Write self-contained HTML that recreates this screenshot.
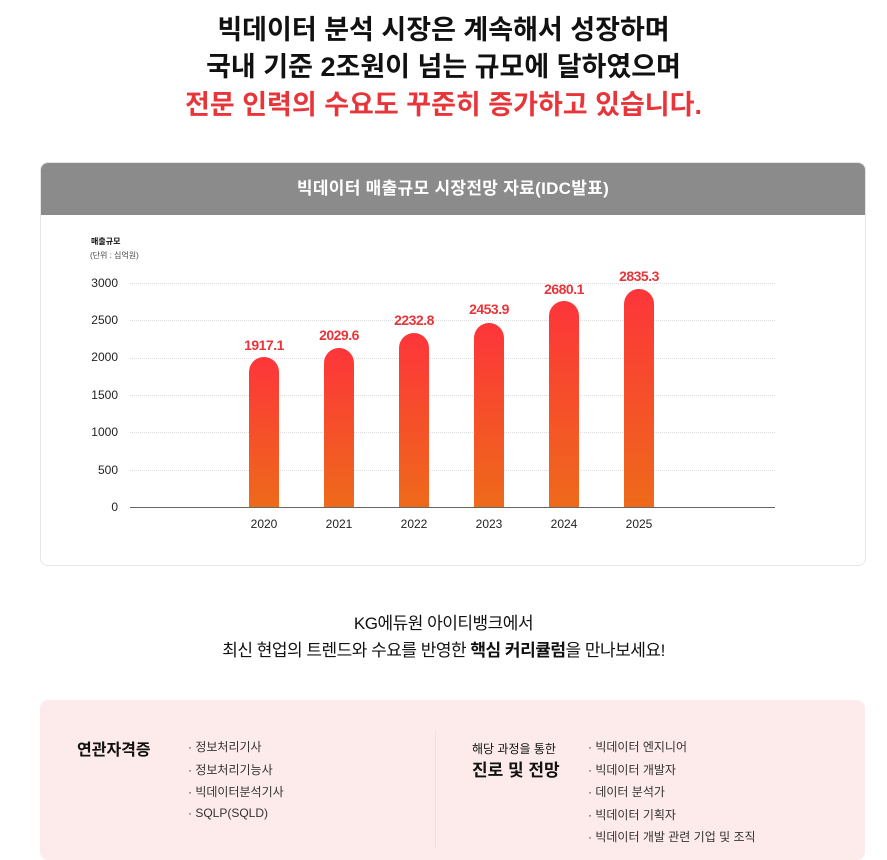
<!DOCTYPE html><html><head><meta charset="utf-8"><style>
body{margin:0;width:887px;height:848px;background:#fff;font-family:"Liberation Sans","Noto Sans CJK KR",sans-serif;position:relative;overflow:hidden;color:#111}
.a{position:absolute}
.t{left:0;width:887px;text-align:center;font-weight:bold;font-size:27px;letter-spacing:0px}
.card{left:40px;top:162px;width:824px;height:402px;border:1px solid #e6e6e6;border-radius:8px;overflow:hidden}
.hd{left:0;top:0;width:824px;height:52px;background:#8b8b8b;color:#fff;text-align:center;line-height:52px;font-size:17px;font-weight:bold;letter-spacing:0.3px}
.yl{font-size:12px;color:#222;width:40px;text-align:right;left:78px}
.g{left:130px;width:645px;height:0;border-top:1px dotted #ddd}
.bar{width:30px;border-radius:15px 15px 0 0;background:linear-gradient(#fd353a,#ee6a1a)}
.v{width:80px;text-align:center;font-size:14px;font-weight:bold;color:#e8353a;letter-spacing:-0.5px}
.x{width:60px;text-align:center;font-size:12px;color:#222}
.pink{left:40px;top:700px;width:825px;height:160px;background:#fdeaea;border-radius:8px}
.li{font-size:12px;color:#333}
</style></head><body>
<div class="a t" style="top:8px">빅데이터 분석 시장은 계속해서 성장하며</div>
<div class="a t" style="top:45px">국내 기준 2조원이 넘는 규모에 달하였으며</div>
<div class="a t" style="top:83px;color:#e8353a">전문 인력의 수요도 꾸준히 증가하고 있습니다.</div>
<div class="a card"><div class="a hd">빅데이터 매출규모 시장전망 자료(IDC발표)</div></div>
<div class="a" style="left:91px;top:236px;font-size:8px;font-weight:bold">매출규모</div>
<div class="a" style="left:90px;top:250px;font-size:8px;color:#444">(단위 : 십억원)</div>
<div class="a yl" style="top:276px">3000</div><div class="a g" style="top:283px"></div>
<div class="a yl" style="top:313px">2500</div><div class="a g" style="top:320px"></div>
<div class="a yl" style="top:350px">2000</div><div class="a g" style="top:358px"></div>
<div class="a yl" style="top:388px">1500</div><div class="a g" style="top:395px"></div>
<div class="a yl" style="top:425px">1000</div><div class="a g" style="top:432px"></div>
<div class="a yl" style="top:463px">500</div><div class="a g" style="top:470px"></div>
<div class="a yl" style="top:500px">0</div>
<div class="a" style="left:130px;top:507px;width:645px;height:1px;background:#666"></div>
<div class="a bar" style="left:249px;top:357px;height:150px"></div>
<div class="a bar" style="left:324px;top:348px;height:159px"></div>
<div class="a bar" style="left:399px;top:333px;height:174px"></div>
<div class="a bar" style="left:474px;top:323px;height:184px"></div>
<div class="a bar" style="left:549px;top:301px;height:206px"></div>
<div class="a bar" style="left:624px;top:289px;height:218px"></div>
<div class="a v" style="left:224px;top:337px">1917.1</div>
<div class="a v" style="left:299px;top:327px">2029.6</div>
<div class="a v" style="left:374px;top:312px">2232.8</div>
<div class="a v" style="left:449px;top:301px">2453.9</div>
<div class="a v" style="left:524px;top:281px">2680.1</div>
<div class="a v" style="left:599px;top:268px">2835.3</div>
<div class="a x" style="left:234px;top:517px">2020</div>
<div class="a x" style="left:309px;top:517px">2021</div>
<div class="a x" style="left:384px;top:517px">2022</div>
<div class="a x" style="left:459px;top:517px">2023</div>
<div class="a x" style="left:534px;top:517px">2024</div>
<div class="a x" style="left:609px;top:517px">2025</div>
<div class="a" style="left:0;width:887px;top:609px;text-align:center;font-size:17px;letter-spacing:-0.5px">KG에듀원 아이티뱅크에서</div>
<div class="a" style="left:0;width:887px;top:636px;text-align:center;font-size:17px;letter-spacing:-0.5px">최신 현업의 트렌드와 수요를 반영한 <b>핵심 커리큘럼</b>을 만나보세요!</div>
<div class="a pink"></div>
<div class="a" style="left:435px;top:730px;width:1px;height:118px;background:#f3dede"></div>
<div class="a" style="left:77px;top:736px;font-size:16px;font-weight:bold">연관자격증</div>
<div class="a li" style="left:188px;top:738px">· 정보처리기사</div>
<div class="a li" style="left:188px;top:761px">· 정보처리기능사</div>
<div class="a li" style="left:188px;top:783px">· 빅데이터분석기사</div>
<div class="a li" style="left:188px;top:806px">· SQLP(SQLD)</div>
<div class="a" style="left:472px;top:740px;font-size:12px">해당 과정을 통한</div>
<div class="a" style="left:472px;top:756px;font-size:17px;font-weight:bold">진로 및 전망</div>
<div class="a li" style="left:588px;top:738px">· 빅데이터 엔지니어</div>
<div class="a li" style="left:588px;top:761px">· 빅데이터 개발자</div>
<div class="a li" style="left:588px;top:783px">· 데이터 분석가</div>
<div class="a li" style="left:588px;top:806px">· 빅데이터 기획자</div>
<div class="a li" style="left:588px;top:828px">· 빅데이터 개발 관련 기업 및 조직</div>
</body></html>
